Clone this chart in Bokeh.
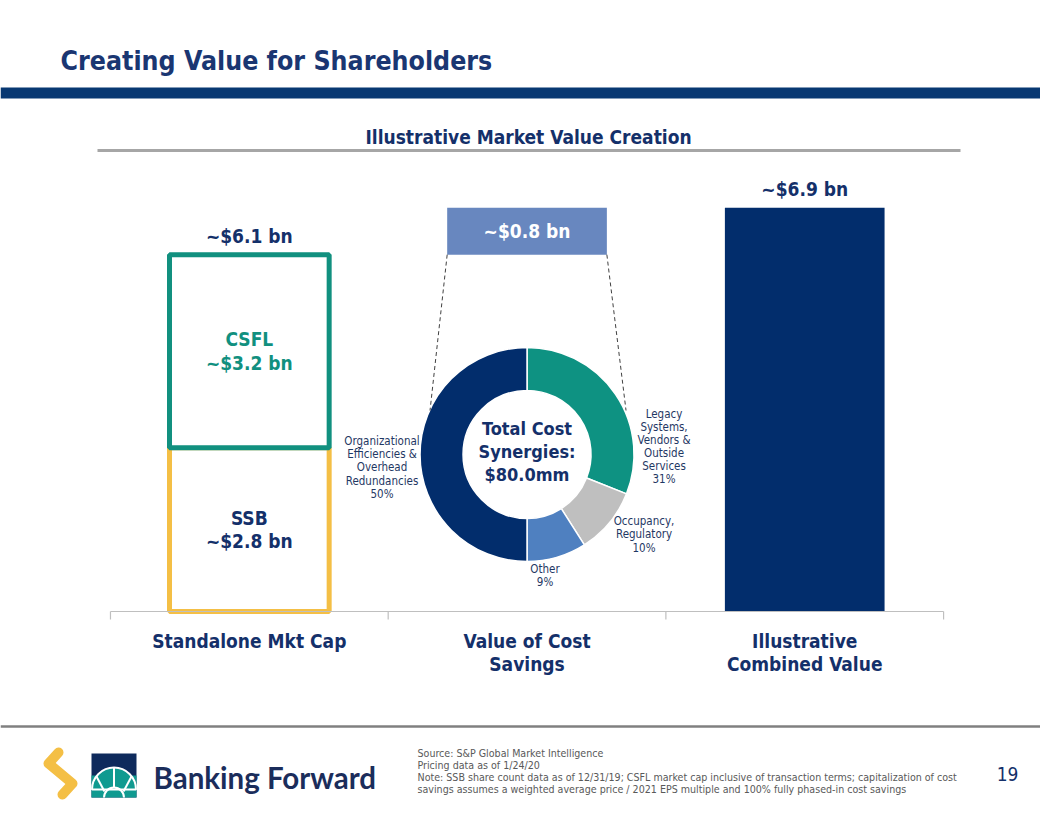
import math
from bokeh.plotting import figure
from bokeh.models import Range1d, ColumnDataSource
from bokeh.embed import file_html
from bokeh.resources import INLINE
from bokeh.core.properties import value

# ---------------- data ----------------
categories = ["Standalone Mkt Cap", "Value of Cost Savings", "Illustrative Combined Value"]
category_labels = ["Standalone Mkt Cap", "Value of Cost\nSavings", "Illustrative\nCombined Value"]

ssb_value = 2.8          # $bn
csfl_value = 3.2         # $bn
standalone_total = 6.1   # $bn
savings_value = 0.8      # $bn
combined_value = 6.9     # $bn

standalone_text = "~$6.1 bn"
savings_text = "~$0.8 bn"
combined_text = "~$6.9 bn"
ssb_text = "SSB\n~$2.8 bn"
csfl_text = "CSFL\n~$3.2 bn"

synergy_names = ["Legacy\nSystems,\nVendors &\nOutside\nServices", "Occupancy,\nRegulatory", "Other",
                 "Organizational\nEfficiencies &\nOverhead\nRedundancies"]
synergy_shares = [31, 10, 9, 50]
synergy_colors = ["#0E9282", "#BFBFBF", "#4F80C0", "#022D6C"]
total_synergies_mm = 80.0

source_lines = ["Source: S&P Global  Market Intelligence",
                "Pricing data as of 1/24/20",
                "Note: SSB share count data as of 12/31/19; CSFL market cap inclusive of transaction terms; capitalization of cost",
                "savings assumes a weighted average price / 2021 EPS multiple  and 100% fully  phased-in cost savings"]

# ---------------- styles ----------------
NAVY = "#14306A"
TEAL = "#11907F"
YELLOW = "#F4BF45"
FONT = "DejaVu Sans Condensed"

W, H = 1040, 800
n = len(categories)
cat_x = [i + 0.5 for i in range(n)]          # category centres on the band scale
X_LEFT, X_RIGHT = -0.396, n + 0.349
PX_PER_CAT = W / (X_RIGHT - X_LEFT)
PX_PER_BN = 58.5
BASE_PX = 611


def x_from_px(px):
    return px / PX_PER_CAT + X_LEFT


def v_from_px(py):
    return (BASE_PX - py) / PX_PER_BN


p = figure(width=W, height=H,
           x_range=Range1d(X_LEFT, X_RIGHT),
           y_range=Range1d(v_from_px(H), v_from_px(0)),
           output_backend="svg", toolbar_location=None, min_border=0,
           x_axis_location=None, y_axis_location=None)
p.extra_x_ranges = {"px": Range1d(0, W)}
p.extra_y_ranges = {"px": Range1d(H, 0)}
p.grid.visible = False
p.outline_line_color = None
p.background_fill_color = "white"
p.border_fill_color = "white"

BAR_W = 0.575
PX = dict(x_range_name="px", y_range_name="px")

# ---------------- header ----------------
p.text(x=[60], y=[60], text=["Creating Value for Shareholders"], **PX,
       text_font=value(FONT), text_font_style="bold", text_font_size="26.5px", text_color="#1A3672",
       text_baseline="middle", text_align="left")
p.quad(left=[0], right=[W], top=[87], bottom=[98], **PX, fill_color="#083872", line_color=None)
p.text(x=[528], y=[136], text=["Illustrative Market Value Creation"], **PX,
       text_font=value(FONT), text_font_style="bold", text_font_size="19px", text_color=NAVY,
       text_baseline="middle", text_align="center")
p.segment(x0=[97], x1=[960], y0=[150], y1=[150], **PX, line_color="#A6A6A6", line_width=3)

# ---------------- bars ----------------
p.vbar(x=[cat_x[0]], bottom=[0], top=[ssb_value], width=BAR_W,
       fill_color="white", line_color=YELLOW, line_width=5)
p.vbar(x=[cat_x[0]], bottom=[ssb_value], top=[standalone_total], width=BAR_W,
       fill_color="white", line_color=TEAL, line_width=5)
p.vbar(x=[cat_x[1]], bottom=[standalone_total], top=[standalone_total + savings_value], width=BAR_W,
       fill_color="#6887BF", line_color=None)
p.vbar(x=[cat_x[2]], bottom=[0], top=[combined_value], width=BAR_W,
       fill_color="#022D6C", line_color=None)

p.text(x=[cat_x[0], cat_x[2]], y=[standalone_total, combined_value],
       text=[standalone_text, combined_text], y_offset=-19,
       text_font=value(FONT), text_font_style="bold", text_font_size="19px", text_color=NAVY,
       text_baseline="middle", text_align="center")
p.text(x=[cat_x[1]], y=[standalone_total + savings_value / 2], text=[savings_text],
       text_font=value(FONT), text_font_style="bold", text_font_size="19px", text_color="white",
       text_baseline="middle", text_align="center")
p.text(x=[cat_x[0]], y=[ssb_value + (standalone_total - ssb_value) / 2], text=[csfl_text],
       text_font=value(FONT), text_font_style="bold", text_font_size="19px", text_color=TEAL,
       text_baseline="middle", text_align="center", text_line_height=1.08)
p.text(x=[cat_x[0]], y=[ssb_value / 2], text=[ssb_text],
       text_font=value(FONT), text_font_style="bold", text_font_size="19px", text_color=NAVY,
       text_baseline="middle", text_align="center", text_line_height=1.08)

# category axis (line with ticks at category boundaries)
p.segment(x0=[0], x1=[n], y0=[0], y1=[0], line_color="#BFBFBF", line_width=1.2)
p.segment(x0=list(range(n + 1)), x1=list(range(n + 1)), y0=[0] * (n + 1),
          y1=[v_from_px(BASE_PX + 8)] * (n + 1), line_color="#BFBFBF", line_width=1.2)
p.text(x=cat_x, y=[0] * n, text=category_labels, y_offset=18,
       text_font=value(FONT), text_font_style="bold", text_font_size="19px", text_color=NAVY,
       text_baseline="top", text_align="center", text_line_height=1.08)

# ---------------- donut ----------------
DC_Y = 454
R_OUT, R_IN = 107, 64
DC_X = (cat_x[1] - X_LEFT) * PX_PER_CAT
total = sum(synergy_shares)
starts, ends = [], []
cum = 0
for s in synergy_shares:
    starts.append(math.pi / 2 - 2 * math.pi * cum / total)
    cum += s
    ends.append(math.pi / 2 - 2 * math.pi * cum / total)
donut = ColumnDataSource(dict(x=[cat_x[1]] * len(synergy_shares), y=[DC_Y] * len(synergy_shares),
                              start=starts, end=ends, color=synergy_colors))
p.annular_wedge(x="x", y="y", inner_radius=R_IN, outer_radius=R_OUT, inner_radius_units="screen",
                outer_radius_units="screen", start_angle="start", end_angle="end", direction="clock",
                fill_color="color", line_color="white", line_width=1.5, source=donut, y_range_name="px")

# dashed connectors from savings bar to donut
conn_pts = [(DC_X - 97, DC_Y - 44), (DC_X + 99, DC_Y - 44)]
p.segment(x0=[cat_x[1] - BAR_W / 2, cat_x[1] + BAR_W / 2],
          y0=[standalone_total, standalone_total],
          x1=[x_from_px(cx) for cx, cy in conn_pts],
          y1=[v_from_px(cy) for cx, cy in conn_pts],
          line_color="#404040", line_width=1, line_dash="4 3")

lab_dx = [137, 117, 18, -145]
lab_dy = [-8, 80, 121, 13]
lab_text = [f"{nm}\n{sh}%" for nm, sh in zip(synergy_names, synergy_shares)]
lab_src = ColumnDataSource(dict(x=[cat_x[1]] * 4, y=[DC_Y] * 4, text=lab_text, dx=lab_dx, dy=lab_dy))
p.text(x="x", y="y", text="text", x_offset="dx", y_offset="dy", source=lab_src, y_range_name="px",
       text_font=value(FONT), text_font_size="11.5px", text_color="#1F3864",
       text_baseline="middle", text_align="center", text_line_height=0.94)
p.text(x=[cat_x[1]], y=[DC_Y - 3], text=[f"Total Cost\nSynergies:\n${total_synergies_mm:.1f}mm"],
       y_range_name="px",
       text_font=value(FONT), text_font_style="bold", text_font_size="18px", text_color=NAVY,
       text_baseline="middle", text_align="center", text_line_height=1.08)

# ---------------- footer ----------------
p.segment(x0=[0], x1=[W], y0=[726], y1=[726], **PX, line_color="#808080", line_width=2.5)
p.multi_line(xs=[[58, 48, 72, 62]], ys=[[752, 763, 783, 794]], **PX,
             line_color=YELLOW, line_width=10, line_cap="round", line_join="round")
p.quad(left=[91], right=[136], top=[753], bottom=[797], **PX, fill_color="#0E2A5C", line_color=None)
p.quad(left=[91], right=[136], top=[775], bottom=[797], **PX, fill_color="#0F9A90", line_color=None)
p.wedge(x=[113.5], y=[789], radius=22, radius_units="screen", start_angle=0, end_angle=math.pi,
        **PX, fill_color="#0F9A90", line_color="white", line_width=2)
p.arc(x=[113.5], y=[797], radius=10, radius_units="screen", start_angle=0, end_angle=math.pi,
      **PX, line_color="white", line_width=2)
p.segment(x0=[104, 113.5, 123], y0=[791, 787, 791], x1=[96, 113.5, 131], y1=[776, 767, 776],
          **PX, line_color="white", line_width=2)
p.text(x=[153], y=[777], text=["Banking Forward"], **PX,
       text_font=value("Lato"), text_font_style="bold", text_font_size="29.5px", text_color="#1B2D5B",
       text_baseline="middle", text_align="left")
p.text(x=[417] * 4, y=[752, 764, 776, 788], text=source_lines, **PX,
       text_font=value(FONT), text_font_size="10.6px", text_color="#595959",
       text_baseline="middle", text_align="left")
p.text(x=[1007], y=[773], text=["19"], **PX,
       text_font=value(FONT), text_font_size="19px", text_color=NAVY,
       text_baseline="middle", text_align="center")

open("out.html", "w").write(file_html(p, INLINE))
